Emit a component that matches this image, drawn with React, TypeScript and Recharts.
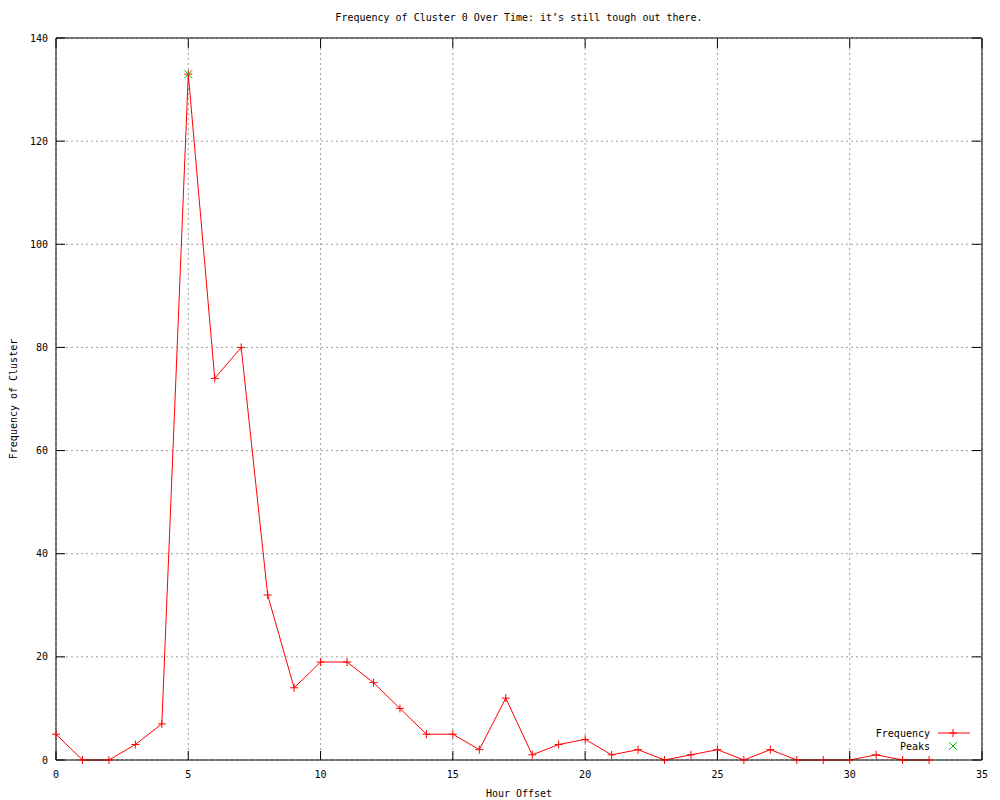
import React from "react";
import { LineChart, Line, XAxis, YAxis, CartesianGrid, Label } from "recharts";

const hours = [
  0, 1, 2, 3, 4, 5, 6, 7, 8, 9, 10, 11, 12, 13, 14, 15, 16, 17, 18, 19, 20, 21,
  22, 23, 24, 25, 26, 27, 28, 29, 30, 31, 32, 33,
];
const frequency = [
  5, 0, 0, 3, 7, 133, 74, 80, 32, 14, 19, 19, 15, 10, 5, 5, 2, 12, 1, 3, 4, 1,
  2, 0, 1, 2, 0, 2, 0, 0, 0, 1, 0, 0,
];
const peakHours = [5];
const peakValues = [133];

const xTicks = [0, 5, 10, 15, 20, 25, 30, 35];
const yTicks = [0, 20, 40, 60, 80, 100, 120, 140];

const title = "Frequency of Cluster 0 Over Time: it\u2019s still tough out there.";
const xTitle = "Hour Offset";
const yTitle = "Frequency of Cluster";
const seriesNames = ["Frequency", "Peaks"];

const data = hours.map((h, i) => {
  const p = peakHours.indexOf(h);
  return { hour: h, freq: frequency[i], peak: p >= 0 ? peakValues[p] : null };
});

const FONT = "'DejaVu Sans Mono', monospace";
const RED = "#ff0000";
const GREEN = "#00c000";
const TICK = 9;

const Plus = ({ cx, cy }: any) =>
  cx == null || cy == null ? null : (
    <g stroke={RED} strokeWidth={1}>
      <line x1={cx - 4} y1={cy} x2={cx + 4} y2={cy} />
      <line x1={cx} y1={cy - 4} x2={cx} y2={cy + 4} />
    </g>
  );

const Cross = ({ cx, cy, value }: any) =>
  cx == null || cy == null || value == null ? null : (
    <g stroke={GREEN} strokeWidth={1}>
      <line x1={cx - 4} y1={cy - 4} x2={cx + 4} y2={cy + 4} />
      <line x1={cx - 4} y1={cy + 4} x2={cx + 4} y2={cy - 4} />
    </g>
  );

// inward ticks, gnuplot style
const BottomTick = ({ x, y, payload }: any) => (
  <g>
    <line x1={x} y1={y - 14} x2={x} y2={y - 14 - TICK} stroke="#000" strokeWidth={1} />
    <text x={x} y={y} textAnchor="middle" dominantBaseline="central" fontSize={10} fontFamily={FONT} fill="#000">
      {payload.value}
    </text>
  </g>
);
const TopTick = ({ x, y }: any) => (
  <line x1={x} y1={y + 1} x2={x} y2={y + 1 + TICK} stroke="#000" strokeWidth={1} />
);
const LeftTick = ({ x, y, payload }: any) => (
  <g>
    <line x1={x + 8} y1={y} x2={x + 8 + TICK} y2={y} stroke="#000" strokeWidth={1} />
    <text x={x} y={y} textAnchor="end" dominantBaseline="central" fontSize={10} fontFamily={FONT} fill="#000">
      {payload.value}
    </text>
  </g>
);
const RightTick = ({ x, y }: any) => (
  <line x1={x - 1} y1={y} x2={x - 1 - TICK} y2={y} stroke="#000" strokeWidth={1} />
);

export default function App() {
  return (
    <div style={{ position: "absolute", left: 0, top: 0, width: 1000, height: 800, background: "#fff" }}>
      <div
        style={{
          position: "absolute",
          left: 0,
          width: 1038,
          top: 12,
          textAlign: "center",
          fontFamily: FONT,
          fontSize: 10,
        }}
      >
        {title}
      </div>
      <LineChart
        width={1000}
        height={800}
        data={data}
        margin={{ top: 37, right: 17, left: 0, bottom: 0 }}
      >
        <CartesianGrid
          xAxisId="bottom"
          yAxisId="left"
          stroke="#a0a0a0"
          strokeDasharray="2 3"
          syncWithTicks
        />
        <XAxis
          xAxisId="bottom"
          dataKey="hour"
          type="number"
          domain={[0, 35]}
          ticks={xTicks}
          height={40}
          tickSize={0}
          tickMargin={14}
          tick={<BottomTick />}
          axisLine={{ stroke: "#000" }}
          tickLine={false}
        >
          <Label
            content={({ viewBox }: any) => (
              <text x={viewBox.x + viewBox.width / 2} y={793} textAnchor="middle" dominantBaseline="central" fontSize={10} fontFamily={FONT}>
                {xTitle}
              </text>
            )}
          />
        </XAxis>
        <XAxis
          xAxisId="top"
          orientation="top"
          dataKey="hour"
          type="number"
          domain={[0, 35]}
          ticks={xTicks}
          height={1}
          tickSize={0}
          tickMargin={0}
          tick={<TopTick />}
          axisLine={{ stroke: "#000" }}
          tickLine={false}
        />
        <YAxis
          yAxisId="left"
          type="number"
          domain={[0, 140]}
          ticks={yTicks}
          width={56}
          tickSize={0}
          tickMargin={8}
          tick={<LeftTick />}
          axisLine={{ stroke: "#000" }}
          tickLine={false}
        >
          <Label
            content={({ viewBox }: any) => {
              const cy = viewBox.y + viewBox.height / 2;
              return (
                <text x={13} y={cy} transform={`rotate(-90 13 ${cy})`} textAnchor="middle" dominantBaseline="central" fontSize={10} fontFamily={FONT}>
                  {yTitle}
                </text>
              );
            }}
          />
        </YAxis>
        <YAxis
          yAxisId="right"
          orientation="right"
          type="number"
          domain={[0, 140]}
          ticks={yTicks}
          width={1}
          tickSize={0}
          tickMargin={0}
          tick={<RightTick />}
          axisLine={{ stroke: "#000" }}
          tickLine={false}
        />
        <Line
          xAxisId="bottom"
          yAxisId="left"
          dataKey="freq"
          name={seriesNames[0]}
          type="linear"
          stroke={RED}
          strokeWidth={1}
          dot={<Plus />}
          activeDot={false}
          isAnimationActive={false}
        />
        <Line
          xAxisId="top"
          yAxisId="right"
          dataKey="peak"
          name={seriesNames[1]}
          type="linear"
          stroke="none"
          dot={<Cross />}
          activeDot={false}
          connectNulls={false}
          isAnimationActive={false}
        />
      </LineChart>
      <svg style={{ position: "absolute", left: 840, top: 724, overflow: "visible" }} width={140} height={30}>
        <text x={90} y={9} textAnchor="end" dominantBaseline="central" fontSize={10} fontFamily={FONT}>
          {seriesNames[0]}
        </text>
        <line x1={98} y1={9} x2={130} y2={9} stroke={RED} />
        <Plus cx={113} cy={9} />
        <text x={90} y={22} textAnchor="end" dominantBaseline="central" fontSize={10} fontFamily={FONT}>
          {seriesNames[1]}
        </text>
        <Cross cx={113} cy={22} value={1} />
      </svg>
    </div>
  );
}
